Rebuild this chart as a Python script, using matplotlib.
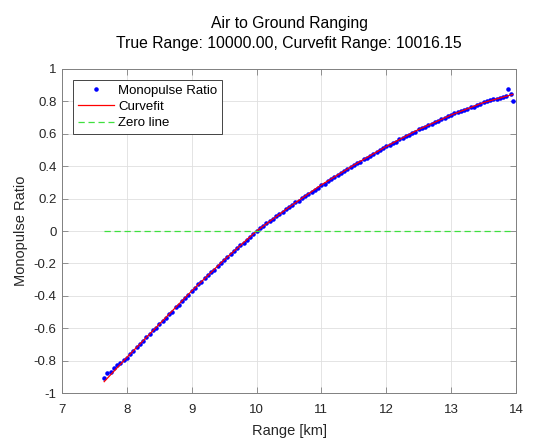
import numpy as np
import matplotlib
matplotlib.use("Agg")
import matplotlib.pyplot as plt

plt.rcParams['font.family'] = ['Liberation Sans', 'DejaVu Sans']

# measured monopulse ratio samples (range in km)
range_km = [
    7.65, 7.70, 7.75, 7.80, 7.85, 7.90, 7.95, 8.00, 8.05, 8.10,
    8.15, 8.20, 8.25, 8.30, 8.35, 8.40, 8.45, 8.50, 8.55, 8.60,
    8.65, 8.70, 8.75, 8.80, 8.85, 8.90, 8.95, 9.00, 9.05, 9.10,
    9.15, 9.20, 9.25, 9.30, 9.35, 9.40, 9.45, 9.50, 9.55, 9.60,
    9.65, 9.70, 9.75, 9.80, 9.85, 9.90, 9.95, 10.00, 10.05, 10.10,
    10.15, 10.20, 10.25, 10.30, 10.35, 10.40, 10.45, 10.50, 10.55, 10.60,
    10.65, 10.70, 10.75, 10.80, 10.85, 10.90, 10.95, 11.00, 11.05, 11.10,
    11.15, 11.20, 11.25, 11.30, 11.35, 11.40, 11.45, 11.50, 11.55, 11.60,
    11.65, 11.70, 11.75, 11.80, 11.85, 11.90, 11.95, 12.00, 12.05, 12.10,
    12.15, 12.20, 12.25, 12.30, 12.35, 12.40, 12.45, 12.50, 12.55, 12.60,
    12.65, 12.70, 12.75, 12.80, 12.85, 12.90, 12.95, 13.00, 13.05, 13.10,
    13.15, 13.20, 13.25, 13.30, 13.35, 13.40, 13.45, 13.50, 13.55, 13.60,
    13.65, 13.70, 13.75, 13.80, 13.85, 13.88, 13.92, 13.95,
]
ratio = [
    -0.905, -0.878, -0.872, -0.845, -0.830, -0.815, -0.795, -0.782, -0.757, -0.742,
    -0.718, -0.700, -0.682, -0.655, -0.638, -0.608, -0.598, -0.575, -0.555, -0.537,
    -0.512, -0.497, -0.470, -0.455, -0.432, -0.413, -0.392, -0.370, -0.352, -0.330,
    -0.315, -0.292, -0.274, -0.252, -0.238, -0.216, -0.200, -0.178, -0.163, -0.142,
    -0.126, -0.108, -0.088, -0.072, -0.053, -0.038, -0.016, 0.000, 0.018, 0.028,
    0.048, 0.060, 0.077, 0.090, 0.106, 0.118, 0.135, 0.148, 0.160, 0.176,
    0.186, 0.203, 0.215, 0.230, 0.240, 0.256, 0.268, 0.285, 0.293, 0.310,
    0.318, 0.336, 0.345, 0.360, 0.368, 0.385, 0.394, 0.407, 0.420, 0.428,
    0.444, 0.452, 0.466, 0.476, 0.490, 0.497, 0.513, 0.522, 0.530, 0.543,
    0.550, 0.565, 0.572, 0.585, 0.592, 0.606, 0.612, 0.627, 0.634, 0.642,
    0.656, 0.660, 0.674, 0.680, 0.693, 0.698, 0.712, 0.716, 0.727, 0.733,
    0.740, 0.748, 0.752, 0.765, 0.768, 0.780, 0.782, 0.795, 0.800, 0.806,
    0.812, 0.815, 0.824, 0.830, 0.835, 0.875, 0.845, 0.800,
]

# curve fit
fit_km = [7.65, 8.0, 8.5, 9.0, 9.5, 10.0, 10.5, 11.0, 11.5, 12.0, 12.5, 13.0, 13.5, 13.95]
fit_ratio = [-0.93, -0.78, -0.575, -0.37, -0.178, 0.0, 0.147, 0.285, 0.407, 0.522,
             0.627, 0.716, 0.793, 0.843]

true_range = 10000.00
fit_range = 10016.15

fig = plt.figure(figsize=(5.35, 4.4), dpi=100)
ax = fig.add_axes([0.1159, 0.1068, 0.8486, 0.7364])

ax.plot(range_km, ratio, 'b.', markersize=4.5, label='Monopulse Ratio')
ax.plot(fit_km, fit_ratio, '-', color='red', linewidth=0.9, label='Curvefit')
ax.plot([min(range_km), max(range_km)], [0, 0], '--', color='#3ee03e',
        linewidth=0.9, dashes=(5, 3), zorder=3, label='Zero line')

ax.set_xlim(7, 14)
ax.set_ylim(-1, 1)
ax.set_xticks(np.arange(7, 15, 1))
ax.set_yticks(np.arange(-1, 1.01, 0.2))
ax.set_yticklabels(['-1', '-0.8', '-0.6', '-0.4', '-0.2', '0', '0.2', '0.4', '0.6', '0.8', '1'])

dark = '#262626'
ax.grid(True, color='#dfdfdf', linewidth=0.6)
ax.set_axisbelow(True)
for s in ax.spines.values():
    s.set_color('#808080')
    s.set_linewidth(0.7)
ax.tick_params(direction='in', top=True, right=True, length=4, width=0.6,
               color='#808080', labelcolor=dark, labelsize=9.5)
ax.tick_params(axis='x', pad=8)
ax.tick_params(axis='y', pad=4)

ax.set_xlabel('Range [km]', fontsize=10.5, color=dark, labelpad=6)
ax.set_ylabel('Monopulse Ratio', fontsize=10.5, color=dark)
ax.set_title('Air to Ground Ranging\nTrue Range: %.2f, Curvefit Range: %.2f' % (true_range, fit_range),
             fontsize=11.3, color='black', pad=15, linespacing=1.45)

leg = ax.legend(loc='upper left', fontsize=9.5, fancybox=False, framealpha=1,
                edgecolor=dark, handlelength=2.8, borderpad=0.35, labelspacing=0.3,
                handletextpad=0.3, borderaxespad=0, bbox_to_anchor=(0.024, 0.966))
leg.get_frame().set_linewidth(0.6)

fig.savefig('out.png', dpi=100)
